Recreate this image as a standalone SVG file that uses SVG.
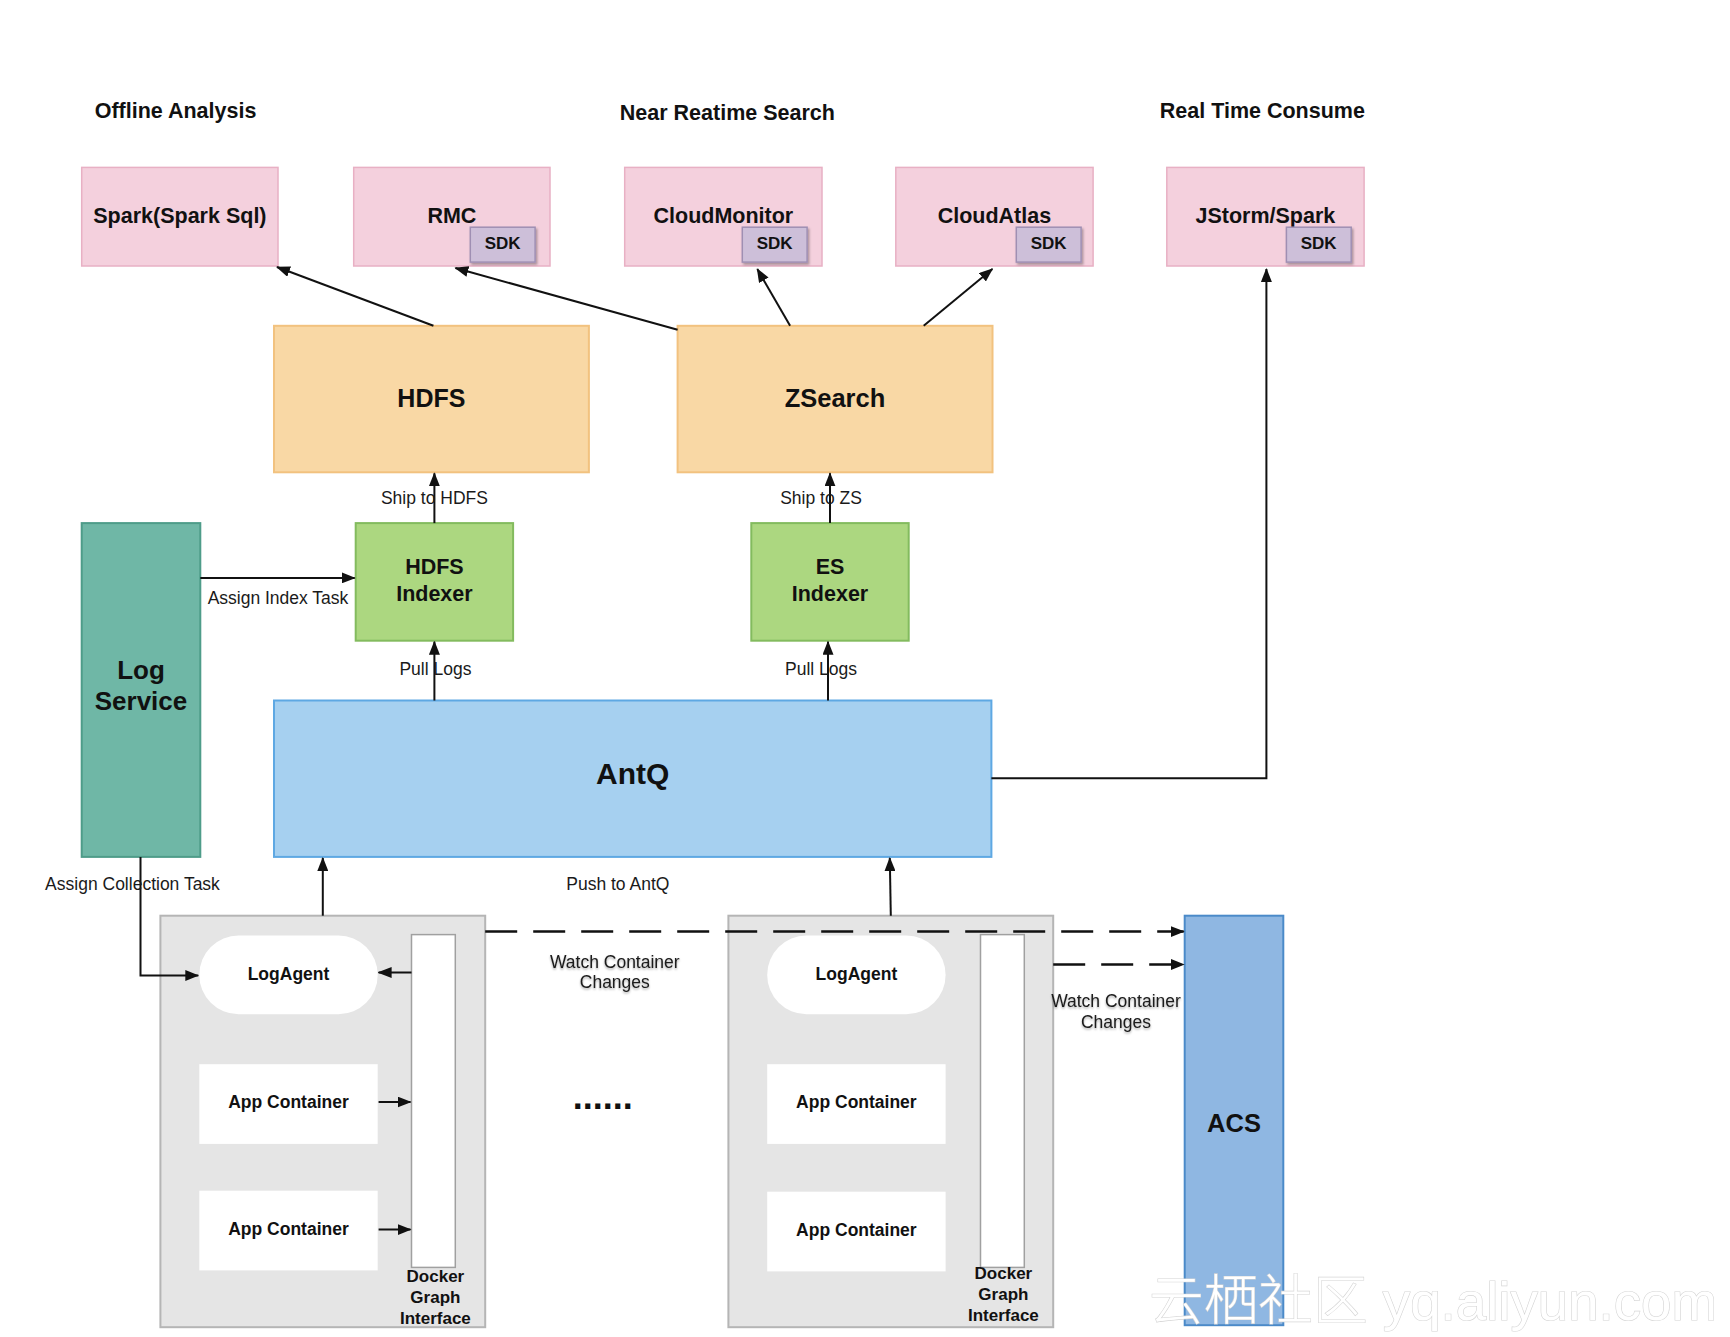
<svg xmlns="http://www.w3.org/2000/svg" width="1730" height="1337" viewBox="0 0 1730 1337">
<defs>
<style>
text{font-family:"Liberation Sans",Arial,sans-serif;fill:#111;}
.title{font-size:21.5px;font-weight:bold;}
.bt{font-weight:bold;text-anchor:middle;}
.lbl{font-size:17.5px;text-anchor:middle;fill:#1a1a1a;}
.pink{fill:#f4d0dd;stroke:#e8b0c4;stroke-width:1.5;}
.sdk{fill:#cdbfd9;stroke:#9f8fb3;stroke-width:1.5;}
.orange{fill:#f9d8a5;stroke:#f2c27f;stroke-width:2;}
.green{fill:#acd780;stroke:#83bb5e;stroke-width:2;}
.teal{fill:#6fb7a6;stroke:#4e9c89;stroke-width:2;}
.blue{fill:#a6d0f0;stroke:#5ea8e3;stroke-width:2;}
.gray{fill:#e5e5e5;stroke:#b5b5b5;stroke-width:2;}
.white{fill:#ffffff;stroke:none;}
.bar{fill:#ffffff;stroke:#a0a0a0;stroke-width:1.5;}
.acs{fill:#8fb7e2;stroke:#4b8ac9;stroke-width:2;}
.line{fill:none;stroke:#111;stroke-width:2;}
.dash{fill:none;stroke:#111;stroke-width:2.5;stroke-dasharray:32 16;}
.wm{font-family:"Liberation Sans","Noto Sans CJK SC",sans-serif;font-size:54px;font-weight:300;fill:#ffffff;stroke:#d4d4d4;stroke-width:1.2;paint-order:stroke;}
</style>
<marker id="ah" viewBox="0 0 14 11" refX="13" refY="5.5" markerWidth="14" markerHeight="11" markerUnits="userSpaceOnUse" orient="auto">
<path d="M0,0 L14,5.5 L0,11 z" fill="#111"/>
</marker>
<filter id="sh" x="-20%" y="-20%" width="150%" height="150%">
<feDropShadow dx="1.5" dy="2" stdDeviation="1.2" flood-color="#000" flood-opacity="0.3"/>
</filter>
<filter id="tsh" x="-10%" y="-30%" width="120%" height="160%">
<feDropShadow dx="0" dy="1.5" stdDeviation="1.2" flood-color="#000" flood-opacity="0.35"/>
</filter>
</defs>
<rect x="0" y="0" width="1730" height="1337" fill="#ffffff"/>

<g id="titles">
<text class="title" x="94.7" y="117.6">Offline Analysis</text>
<text class="title" x="619.8" y="119.6">Near Reatime Search</text>
<text class="title" x="1159.8" y="117.6">Real Time Consume</text>
</g>

<g id="spark">
<rect class="pink" x="81.7" y="167.4" width="196.3" height="98.6"/>
<text class="bt" x="179.9" y="222.8" font-size="21.5">Spark(Spark Sql)</text>
</g>
<g id="rmc">
<rect class="pink" x="353.7" y="167.4" width="196.3" height="98.6"/>
<text class="bt" x="451.9" y="222.8" font-size="21.5">RMC</text>
<rect class="sdk" x="470.3" y="227.2" width="64.8" height="34.9" filter="url(#sh)"/>
<text class="bt" x="502.7" y="248.6" font-size="17">SDK</text>
</g>
<g id="cloudmonitor">
<rect class="pink" x="624.7" y="167.4" width="197.3" height="98.6"/>
<text class="bt" x="723.4" y="222.8" font-size="21.5">CloudMonitor</text>
<rect class="sdk" x="742.3" y="227.2" width="64.8" height="34.9" filter="url(#sh)"/>
<text class="bt" x="774.7" y="248.6" font-size="17">SDK</text>
</g>
<g id="cloudatlas">
<rect class="pink" x="895.8" y="167.4" width="197.3" height="98.6"/>
<text class="bt" x="994.4" y="222.8" font-size="21.5">CloudAtlas</text>
<rect class="sdk" x="1016.3" y="227.2" width="64.8" height="34.9" filter="url(#sh)"/>
<text class="bt" x="1048.7" y="248.6" font-size="17">SDK</text>
</g>
<g id="jstorm">
<rect class="pink" x="1166.8" y="167.4" width="197.3" height="98.6"/>
<text class="bt" x="1265.4" y="222.8" font-size="21.5">JStorm/Spark</text>
<rect class="sdk" x="1286.4" y="227.2" width="64.8" height="34.9" filter="url(#sh)"/>
<text class="bt" x="1318.7" y="248.6" font-size="17">SDK</text>
</g>

<g id="hdfs">
<rect class="orange" x="274" y="325.8" width="314.9" height="146.5"/>
<text class="bt" x="431.4" y="406.5" font-size="25">HDFS</text>
</g>
<g id="zsearch">
<rect class="orange" x="677.6" y="325.8" width="314.9" height="146.5"/>
<text class="bt" x="835" y="406.5" font-size="25.5">ZSearch</text>
</g>

<g id="hdfs-indexer">
<rect class="green" x="355.7" y="523.1" width="157.4" height="117.6"/>
<text class="bt" x="434.4" y="573.9" font-size="21.5">HDFS</text>
<text class="bt" x="434.4" y="600.8" font-size="21.5">Indexer</text>
</g>
<g id="es-indexer">
<rect class="green" x="751.3" y="523.1" width="157.4" height="117.6"/>
<text class="bt" x="830" y="573.9" font-size="21.5">ES</text>
<text class="bt" x="830" y="600.8" font-size="21.5">Indexer</text>
</g>

<g id="log-service">
<rect class="teal" x="81.7" y="523.1" width="118.6" height="333.8"/>
<text class="bt" x="141" y="679" font-size="26">Log</text>
<text class="bt" x="141" y="710.4" font-size="26">Service</text>
</g>

<g id="antq">
<rect class="blue" x="274" y="700.5" width="717.4" height="156.4"/>
<text class="bt" x="632.7" y="784.2" font-size="30">AntQ</text>
</g>

<g id="host-left">
<rect class="gray" x="160.4" y="915.7" width="324.8" height="411.5"/>
<rect class="white" x="199.3" y="935.6" width="178.4" height="78.7" rx="39.3" ry="39.3"/>
<text class="bt" x="288.5" y="979.5" font-size="17.5">LogAgent</text>
<rect class="white" x="199.3" y="1064.2" width="178.4" height="79.7"/>
<text class="bt" x="288.5" y="1108" font-size="17.5">App Container</text>
<rect class="white" x="199.3" y="1190.7" width="178.4" height="79.7"/>
<text class="bt" x="288.5" y="1234.5" font-size="17.5">App Container</text>
<rect class="bar" x="411.5" y="934.6" width="43.8" height="332.8"/>
<text class="bt" x="435.4" y="1282.4" font-size="17">Docker</text>
<text class="bt" x="435.4" y="1303.3" font-size="17">Graph</text>
<text class="bt" x="435.4" y="1324.2" font-size="17">Interface</text>
</g>

<g id="host-right">
<rect class="gray" x="728.4" y="915.7" width="324.8" height="411.5"/>
<rect class="white" x="767.2" y="935.6" width="178.4" height="78.7" rx="39.3" ry="39.3"/>
<text class="bt" x="856.4" y="979.5" font-size="17.5">LogAgent</text>
<rect class="white" x="767.2" y="1064.2" width="178.4" height="79.7"/>
<text class="bt" x="856.4" y="1108" font-size="17.5">App Container</text>
<rect class="white" x="767.2" y="1191.7" width="178.4" height="79.7"/>
<text class="bt" x="856.4" y="1235.5" font-size="17.5">App Container</text>
<rect class="bar" x="980.5" y="934.6" width="43.8" height="332.8"/>
<text class="bt" x="1003.4" y="1279.4" font-size="17">Docker</text>
<text class="bt" x="1003.4" y="1300.3" font-size="17">Graph</text>
<text class="bt" x="1003.4" y="1321.2" font-size="17">Interface</text>
</g>

<g id="acs">
<rect class="acs" x="1184.7" y="915.7" width="98.6" height="409.5"/>
<text class="bt" x="1234" y="1131.9" font-size="25.5">ACS</text>
</g>

<g id="ellipsis">
<text class="bt" x="602.8" y="1109" font-size="36">......</text>
</g>

<g id="connectors">
<line class="line" x1="433.4" y1="325.8" x2="277" y2="267" marker-end="url(#ah)"/>
<line class="line" x1="677.6" y1="329.8" x2="455.4" y2="268" marker-end="url(#ah)"/>
<line class="line" x1="790.1" y1="325.8" x2="757.3" y2="269" marker-end="url(#ah)"/>
<line class="line" x1="923.7" y1="325.8" x2="992.4" y2="269" marker-end="url(#ah)"/>
<polyline class="line" points="991.4,778.2 1266.4,778.2 1266.4,269" marker-end="url(#ah)"/>
<line class="line" x1="434.4" y1="523.1" x2="434.4" y2="473.3" marker-end="url(#ah)"/>
<line class="line" x1="830" y1="523.1" x2="830" y2="473.3" marker-end="url(#ah)"/>
<line class="line" x1="434.4" y1="700.5" x2="434.4" y2="641.7" marker-end="url(#ah)"/>
<line class="line" x1="828" y1="700.5" x2="828" y2="641.7" marker-end="url(#ah)"/>
<line class="line" x1="200.3" y1="577.9" x2="354.7" y2="577.9" marker-end="url(#ah)"/>
<polyline class="line" points="140.5,856.9 140.5,975.5 198.3,975.5" marker-end="url(#ah)"/>
<line class="line" x1="322.8" y1="915.7" x2="322.8" y2="858" marker-end="url(#ah)"/>
<line class="line" x1="890.8" y1="915.7" x2="889.8" y2="858" marker-end="url(#ah)"/>
<line class="line" x1="411.5" y1="972.5" x2="378.6" y2="972.5" marker-end="url(#ah)"/>
<line class="line" x1="378.6" y1="1102" x2="410.5" y2="1102" marker-end="url(#ah)"/>
<line class="line" x1="378.6" y1="1229.6" x2="410.5" y2="1229.6" marker-end="url(#ah)"/>
<line class="dash" x1="485.2" y1="931.6" x2="1183.7" y2="931.6" marker-end="url(#ah)"/>
<line class="dash" x1="1053.2" y1="964.5" x2="1183.7" y2="964.5" marker-end="url(#ah)"/>
<text class="lbl" x="434.4" y="504.2">Ship to HDFS</text>
<text class="lbl" x="821" y="504.2">Ship to ZS</text>
<text class="lbl" x="435.4" y="674.6">Pull Logs</text>
<text class="lbl" x="821" y="674.6">Pull Logs</text>
<text class="lbl" x="278" y="603.8">Assign Index Task</text>
<text class="lbl" x="132.5" y="889.8">Assign Collection Task</text>
<text class="lbl" x="617.8" y="889.8">Push to AntQ</text>
<g filter="url(#tsh)">
<text class="lbl" x="614.8" y="967.5">Watch Container</text>
<text class="lbl" x="614.8" y="988.4">Changes</text>
<text class="lbl" x="1116" y="1007.4">Watch Container</text>
<text class="lbl" x="1116" y="1028.3">Changes</text>
</g>
</g>

<text class="wm" x="1149" y="1320" textLength="568" lengthAdjust="spacingAndGlyphs">云栖社区 yq.aliyun.com</text>
</svg>
